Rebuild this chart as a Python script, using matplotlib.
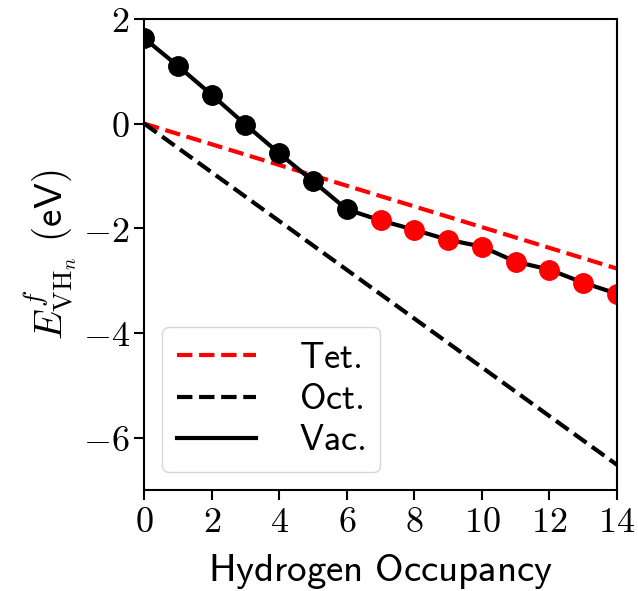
import matplotlib
matplotlib.use("Agg")
import matplotlib.pyplot as plt
from matplotlib.ticker import FuncFormatter

plt.rcParams["mathtext.fontset"] = "cm"

occupancy = list(range(15))
vac_energy = [1.63, 1.10, 0.55, -0.02, -0.57, -1.10, -1.64, -1.85, -2.03, -2.22,
              -2.35, -2.64, -2.79, -3.04, -3.25]
n_black = 7
tet_x = [0, 14]
tet_energy = [0.0, -2.77]
oct_x = [0, 14]
oct_energy = [0.0, -6.52]


def math_tick(v, pos):
    return r"$%d$" % v if v >= 0 else r"$-%d$" % abs(v)


fig = plt.figure(figsize=(6.38, 5.91), dpi=100)
ax = fig.add_axes([0.226, 0.171, 0.741, 0.797])

ax.plot(tet_x, tet_energy, "--", color="red", lw=3, label=r"$\mathsf{Tet.}$")
ax.plot(oct_x, oct_energy, "--", color="black", lw=3, label=r"$\mathsf{Oct.}$")
ax.plot(occupancy, vac_energy, "-", color="black", lw=3, label=r"$\mathsf{Vac.}$")
ax.plot(occupancy[:n_black], vac_energy[:n_black], "o", color="black", ms=14)
ax.plot(occupancy[n_black:], vac_energy[n_black:], "o", color="red", ms=14)

ax.set_xlim(0, 14)
ax.set_ylim(-7, 2)
ax.set_xticks(range(0, 15, 2))
ax.set_yticks([-6, -4, -2, 0, 2])
ax.xaxis.set_major_formatter(FuncFormatter(math_tick))
ax.yaxis.set_major_formatter(FuncFormatter(math_tick))
ax.tick_params(labelsize=26, width=1.5, length=7)
for s in ax.spines.values():
    s.set_linewidth(1.5)

ax.set_xlabel(r"$\mathsf{Hydrogen\ Occupancy}$", fontsize=28, labelpad=10)
ax.set_ylabel(r"$E^f_{\mathrm{VH}_n}$ $\mathsf{(eV)}$", fontsize=28, labelpad=2)

ax.legend(loc="lower left", fontsize=26, handlelength=2.2, borderaxespad=0.5,
          handletextpad=1.2, labelspacing=0.2)

fig.savefig("out.png", dpi=100)
